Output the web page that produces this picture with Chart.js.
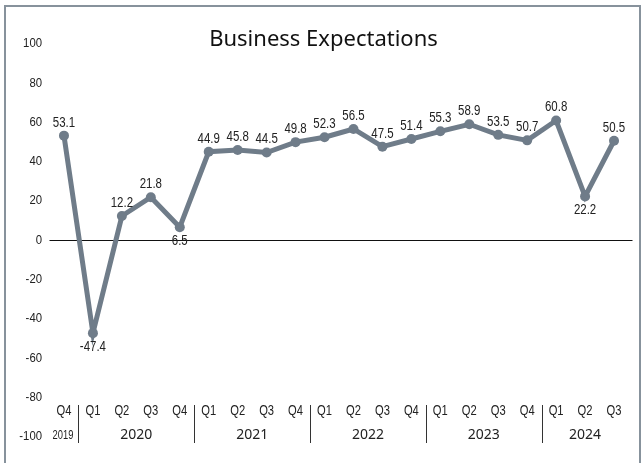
<!DOCTYPE html>
<html>
<head>
<meta charset="utf-8">
<script src="https://cdn.jsdelivr.net/npm/chart.js@4.4.1/dist/chart.umd.min.js"></script>
<style>
  html, body { margin: 0; padding: 0; background: #fff; }
  #wrap { position: relative; width: 643px; height: 463px; overflow: hidden; }
  #frame {
    position: absolute; left: 4px; top: 5px; width: 637px; height: 470px;
    border: 2px solid #87929c; box-sizing: border-box; pointer-events: none;
  }
  canvas { position: absolute; left: 0; top: 0; }
</style>
</head>
<body>
<div id="wrap">
  <canvas id="chart" width="643" height="463"></canvas>
  <div id="frame"></div>
</div>
<script>
const title = 'Business Expectations';
const quarters = ['Q4', 'Q1', 'Q2', 'Q3', 'Q4', 'Q1', 'Q2', 'Q3', 'Q4', 'Q1',
                  'Q2', 'Q3', 'Q4', 'Q1', 'Q2', 'Q3', 'Q4', 'Q1', 'Q2', 'Q3'];
const years = ['2019', '2020', '2020', '2020', '2020', '2021', '2021', '2021', '2021', '2022',
               '2022', '2022', '2022', '2023', '2023', '2023', '2023', '2024', '2024', '2024'];
const expectations = [53.1, -47.4, 12.2, 21.8, 6.5, 44.9, 45.8, 44.5, 49.8, 52.3,
                      56.5, 47.5, 51.4, 55.3, 58.9, 53.5, 50.7, 60.8, 22.2, 50.5];

const LINE = '#6f7c89';
const SANS = "'Liberation Sans', Arial, sans-serif";

// labels go under a point only where it dips well below both neighbours
function labelBelow(i) {
  const v = expectations[i];
  const prev = expectations[i - 1], next = expectations[i + 1];
  if (prev === undefined || next === undefined) return false;
  return v < prev - 10 && v < next - 10;
}

// no narrow face installed, so squeeze a regular one horizontally
function narrowText(ctx, text, x, y, squeeze, align) {
  ctx.save();
  ctx.translate(x, y);
  ctx.scale(squeeze, 1);
  ctx.textAlign = align || 'center';
  ctx.fillText(text, 0, 0);
  ctx.restore();
}

const decorations = {
  id: 'decorations',
  beforeDatasetsDraw(chart) {
    const ctx = chart.ctx;
    const a = chart.chartArea;
    const y0 = Math.round(chart.scales.y.getPixelForValue(0)) + 0.5;
    ctx.save();
    ctx.strokeStyle = '#111';
    ctx.lineWidth = 1;
    ctx.beginPath();
    ctx.moveTo(a.left, y0);
    ctx.lineTo(a.right + 4, y0);
    ctx.stroke();
    ctx.restore();
  },
  afterDatasetsDraw(chart) {
    const ctx = chart.ctx;
    const x = chart.scales.x;
    const y = chart.scales.y;
    const meta = chart.getDatasetMeta(0);
    ctx.save();
    ctx.textBaseline = 'middle';

    // title
    ctx.fillStyle = '#111';
    ctx.font = "22px 'Noto Sans', sans-serif";
    ctx.textAlign = 'center';
    ctx.fillText(title, chart.width / 2 + 2, 40);

    // y tick labels
    ctx.fillStyle = '#222';
    ctx.font = '13.5px ' + SANS;
    y.ticks.forEach((t) => {
      narrowText(ctx, String(t.value), 42, y.getPixelForValue(t.value), 0.84, 'right');
    });

    // value labels
    ctx.font = '14px ' + SANS;
    meta.data.forEach((pt, i) => {
      const below = labelBelow(i);
      narrowText(ctx, expectations[i].toFixed(1), pt.x, pt.y + (below ? 14 : -13), 0.82);
    });

    // quarter labels
    const qy = 411.5, yy = 435;
    ctx.font = '14px ' + SANS;
    quarters.forEach((q, i) => narrowText(ctx, q, x.getPixelForValue(i), qy, 0.8));

    // year labels, centred under their quarters, with separators between years
    let start = 0;
    for (let i = 1; i <= years.length; i++) {
      if (i === years.length || years[i] !== years[start]) {
        const cx = (x.getPixelForValue(start) + x.getPixelForValue(i - 1)) / 2;
        if (start === i - 1) {
          ctx.font = '13px ' + SANS;
          narrowText(ctx, years[start], cx - 1, yy, 0.72);
        } else {
          ctx.font = "14px 'Noto Sans', sans-serif";
          ctx.textAlign = 'center';
          ctx.fillText(years[start], cx, yy);
        }
        if (i < years.length) {
          const sx = Math.round((x.getPixelForValue(i - 1) + x.getPixelForValue(i)) / 2) + 0.5;
          ctx.strokeStyle = '#333';
          ctx.lineWidth = 1;
          ctx.beginPath();
          ctx.moveTo(sx, 405);
          ctx.lineTo(sx, 443);
          ctx.stroke();
        }
        start = i;
      }
    }
    ctx.restore();
  }
};

new Chart(document.getElementById('chart'), {
  type: 'line',
  data: {
    labels: quarters,
    datasets: [{
      data: expectations,
      borderColor: LINE,
      backgroundColor: LINE,
      borderWidth: 5,
      pointRadius: 5,
      pointHoverRadius: 5,
      pointBorderWidth: 0,
      tension: 0,
      clip: false,
    }]
  },
  options: {
    responsive: false,
    animation: false,
    events: [],
    layout: { padding: { top: 43.5, bottom: 26.5, left: 0, right: 14.5 } },
    plugins: {
      legend: { display: false },
      tooltip: { enabled: false },
      title: { display: false },
    },
    scales: {
      x: {
        type: 'category',
        display: false,
        offset: true,
      },
      y: {
        min: -100,
        max: 100,
        afterFit: (s) => { s.width = 49.5; },
        ticks: { stepSize: 20, display: false },
        grid: { display: false, drawTicks: false },
        border: { display: false },
      }
    }
  },
  plugins: [decorations]
});
</script>
</body>
</html>
